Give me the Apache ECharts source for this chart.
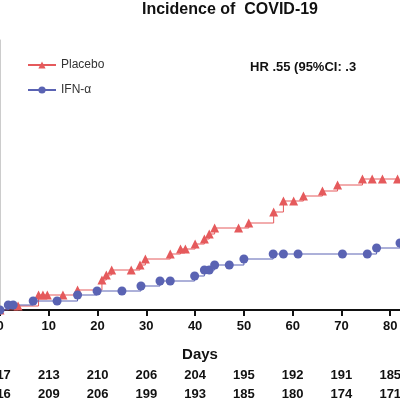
<!DOCTYPE html>
<html><head><meta charset="utf-8">
<script src="https://cdn.jsdelivr.net/npm/echarts@6/dist/echarts.min.js"></script>
<style>html,body{margin:0;padding:0;background:#fff}#c{width:400px;height:400px}</style>
</head><body><div id="c"></div>
<script>
const placeboDays=[0,3.7,7.9,8.8,9.7,12.9,15.9,20.9,21.8,22.9,26.9,28.7,29.8,34.9,37,38,40,41.9,42.9,44,48.9,51,56.1,58.1,60.2,62.2,66.1,69.2,74.3,76.3,78.4,81.5];
const placeboVals=[0,4,15,15,15,15,20,30,35,40,40,45,51,56,61,61,66,71,76,82,82,87,98,109,109,114,119,125,131,131,131,131];
const ifnDays=[0,1.7,2.7,6.8,11.7,15.9,19.9,25,28.9,32.8,34.9,39.9,41.9,42.9,44,47,50,56,58.1,61.1,70.2,75.3,77.2,82];
const ifnVals=[0,5,5,9,9,15,19,19,24,29,29,34,40,40,45,45,51,56,56,56,56,56,62,67];
const tickDays=[0,10,20,30,40,50,60,70,80];
const riskPlacebo=[217,213,210,206,204,195,192,191,185];
const riskIFN=[216,209,206,199,193,185,180,174,171];
const RED='#e55a5c', BLUE='#5a63b3';
const z=(a,b)=>a.map((d,i)=>[d,b[i]]);
const ch=echarts.init(document.getElementById('c'));
const riskAxis=(arr,off)=>({type:'value',position:'bottom',min:0,max:82,interval:10,offset:off,
  axisLine:{show:false},axisTick:{show:false},splitLine:{show:false},
  axisLabel:{fontFamily:'Liberation Sans',fontWeight:'bold',fontSize:13,color:'#111',
    showMaxLabel:false,formatter:v=>{const i=tickDays.indexOf(v);return i>=0?String(arr[i]):'';}}});
ch.setOption({
  animation:false,
  title:{text:'Incidence of  COVID-19',left:225,top:-3,textAlign:'center',
    textStyle:{fontFamily:'Liberation Sans',fontWeight:'bold',fontSize:16,color:'#111'}},
  legend:{left:22,top:54,orient:'vertical',itemGap:13,itemWidth:28,itemHeight:9,
    textStyle:{fontFamily:'Liberation Sans',fontSize:12,color:'#333'},
    data:[{name:'Placebo'},{name:'IFN-α'}]},
  graphic:[{type:'text',left:250,top:61,style:{text:'HR .55 (95%CI: .3',
    font:'bold 13px Liberation Sans',fill:'#111'}}],
  grid:{left:0,right:0,top:40,bottom:90,containLabel:false,outerBoundsMode:'none'},
  xAxis:[{type:'value',min:0,max:82,interval:10,name:'Days',nameLocation:'middle',nameGap:37,
    nameTextStyle:{fontFamily:'Liberation Sans',fontWeight:'bold',fontSize:15,color:'#111'},
    axisLine:{lineStyle:{color:'#111',width:2}},axisTick:{length:6,lineStyle:{color:'#111',width:2}},
    splitLine:{show:false},
    axisLabel:{fontFamily:'Liberation Sans',fontWeight:'bold',fontSize:13,color:'#111',margin:10,showMaxLabel:false}},
    riskAxis(riskPlacebo,51),riskAxis(riskIFN,70)],
  yAxis:{type:'value',min:0,max:270,axisLine:{show:true,lineStyle:{color:'#ccc'}},axisTick:{show:false},axisLabel:{show:false},splitLine:{show:false}},
  series:[
    {name:'Placebo',type:'line',step:'end',data:z(placeboDays,placeboVals),symbol:'triangle',symbolSize:9,
      color:RED,lineStyle:{width:1,color:RED},itemStyle:{color:RED}},
    {name:'IFN-α',type:'line',step:'end',data:z(ifnDays,ifnVals),symbol:'circle',symbolSize:9,
      color:BLUE,lineStyle:{width:1,color:BLUE},itemStyle:{color:BLUE}}
  ]
});
</script></body></html>
